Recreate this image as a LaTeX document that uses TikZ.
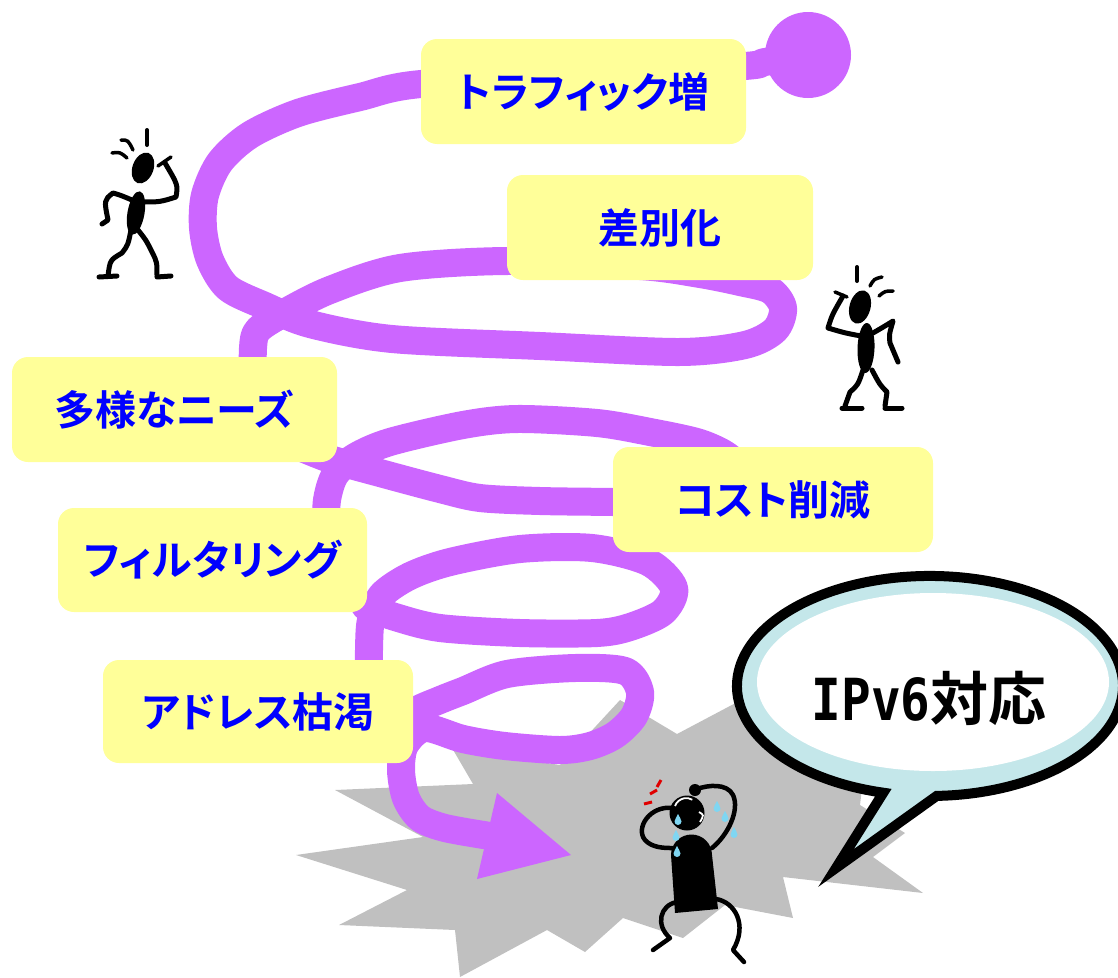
\documentclass[tikz,border=0pt]{standalone}
\usepackage{fontspec}
\newfontfamily\jpb[RawFeature=+palt]{Noto Sans CJK JP Bold}
\newfontfamily\jpr{Noto Sans CJK JP Bold}
\newfontfamily\latinmono[FakeStretch=0.85]{DejaVu Sans Mono Bold}
\definecolor{spiral}{HTML}{CC66FF}
\definecolor{notefill}{HTML}{FFFF99}
\definecolor{notetext}{HTML}{0000FF}
\definecolor{burst}{HTML}{C0C0C0}
\definecolor{rim}{HTML}{C4E7EA}
\definecolor{teardrop}{HTML}{7FD6F2}
\definecolor{alarm}{HTML}{E00000}
\tikzset{
  spiralband/.style={draw=spiral, line width=28, line join=round, line cap=round},
  note/.style={fill=notefill, rounded corners=16, inner sep=0pt, text=notetext,
    font=\fontsize{41}{43}\selectfont\jpb},
  limb/.style={line width=5, line cap=round, line join=round},
  droplet/.pic={\fill[teardrop] (0,-6) .. controls (-1,-3) and (-3.5,-1) .. (-3.5,1.5)
      arc[start angle=180, end angle=0, radius=3.5] .. controls (3.5,-1) and (1,-3) .. cycle;}
}
\begin{document}
\begin{tikzpicture}[x=1pt, y=-1pt]
\useasboundingbox (0,0) rectangle (1118,977);

% grey burst behind the crying man
\fill[burst] (335,790) -- (473,784) -- (452,748) -- (560,765) -- (620,700) -- (677,734)
  -- (745,698) -- (800,640) -- (870,720) -- (860,805) -- (905,833) -- (873,857)
  -- (923,893) -- (783,877) -- (793,918) -- (725,905) -- (683,938) -- (623,918)
  -- (585,952) -- (547,930) -- (460,977) -- (455,930) -- (339,925) -- (407,890)
  -- (296,855) -- (423,837) -- cycle;

% the spiral band, top turn first
\fill[spiral] (808,55) circle[radius=43];
\draw[spiralband] plot[smooth, tension=0.5] coordinates {(808,55) (765,62) (745,66)
  (600,75) (421,84) (360,97) (298,113) (250,135) (220,162) (205,195) (203,228)
  (210,260) (228,288) (265,306) (310,324) (392,339) (540,346) (679,352) (745,345)
  (775,330) (783,308) (770,290) (740,282) (700,274) (640,266) (507,261) (400,268)
  (330,290) (284,313) (258,330) (253,348) (253,390)};
\draw[spiralband] plot[smooth, tension=0.5] coordinates {(326,530) (327,500) (335,475)
  (355,457) (390,442) (463,425) (517,419) (597,423) (650,432) (700,443) (730,458)
  (738,478) (715,495) (660,503) (613,502) (540,501) (480,498) (440,489) (380,473)
  (330,459) (295,445)};
\draw[spiralband] plot[smooth, tension=0.5] coordinates {(369,690) (369,650) (371,620)
  (382,595) (410,576) (450,562) (520,549) (592,548) (648,562) (674,588) (663,612)
  (630,627) (597,633) (520,633) (440,628) (395,617) (365,606)};
\draw[spiralband] plot[smooth, tension=0.5] coordinates {(380,735) (413,712) (440,700)
  (463,691) (507,674) (575,668) (625,671) (640,692) (634,716) (615,735) (590,746)
  (560,750) (505,746) (463,739) (425,728) (405,745) (401,770) (406,798) (420,818)
  (445,828) (490,836)};
\fill[spiral] (497,793) -- (571,855) -- (477,879) -- cycle;

% labels
\node[note, minimum width=325, minimum height=105] (traffic) at (583.5,91.5) {トラフィック増};
\node[note, minimum width=306, minimum height=105] (diff) at (660,227.5) {差別化};
\node[note, minimum width=325, minimum height=105] (needs) at (174.5,409.5) {多様なニーズ};
\node[note, minimum width=320, minimum height=105] (cost) at (773,499.5) {コスト削減};
\node[note, minimum width=309, minimum height=104] (filter) at (212.5,560) {フィルタリング};
\node[note, minimum width=310, minimum height=103] (addr) at (258,711.5) {アドレス枯渇};

% speech bubble
\filldraw[fill=rim, draw=black, line width=10, line join=miter, miter limit=10]
  (836,868) -- (883.3,792.7) arc[start angle=104, end angle=448, x radius=193, y radius=110]
  -- cycle;
\fill[white] (933,682) ellipse[x radius=176, y radius=89];
\node (say) at (929,698) {\fontsize{58}{60}\selectfont\latinmono IPv6\jpr 対応};

% worried man, upper left
\fill[rotate around={70:(143,168)}] (143,168) ellipse[x radius=16, y radius=10.5];
\fill[rotate around={80:(136,213)}] (136,213) ellipse[x radius=22, y radius=8.5];
\draw[limb, line width=4] (147,130) -- (147,145);
\draw[limb, line width=3.5] (121,140) .. controls (128,140) .. (133,150);
\draw[limb, line width=3.5] (112,153) .. controls (120,152) .. (127,158);
\draw[limb] (141,202) .. controls (160,202) .. (176,197) .. controls (178,185) .. (165,163);
\draw[limb, line width=3.5] (158,166) -- (171,157);
\draw[limb] (132,200) .. controls (120,195) .. (113,193) .. controls (104,200) .. (108,220) -- (102,224);
\draw[limb] (131,230) .. controls (128,245) .. (122,253) .. controls (110,260) .. (108,276);
\draw[limb] (99,277) -- (117,276);
\draw[limb] (138,230) .. controls (146,240) .. (152,252) .. controls (157,262) .. (157,276);
\draw[limb] (157,277) -- (171,276);

% worried man, right
\fill[rotate around={75:(860,307)}] (860,307) ellipse[x radius=17, y radius=10.5];
\fill[rotate around={88:(866,348)}] (866,348) ellipse[x radius=25, y radius=8.5];
\draw[limb, line width=4] (857,267) -- (857,281);
\draw[limb, line width=3.5] (870,286) .. controls (874,279) .. (882,277);
\draw[limb, line width=3.5] (879,296) .. controls (885,291) .. (893,291);
\draw[limb] (861,336) .. controls (845,333) .. (828,328) .. controls (832,315) .. (843,296);
\draw[limb, line width=3.5] (835,292) -- (847,297);
\draw[limb] (873,333) .. controls (885,326) .. (893,321) .. controls (889,335) .. (890,343) -- (898,362);
\draw[limb] (863,370) .. controls (858,385) .. (850,392) -- (845,406);
\draw[limb] (842,408) -- (862,408);
\draw[limb] (872,370) .. controls (880,385) .. (887,392) -- (885,406);
\draw[limb] (885,408) -- (902,408);

% crying man in the burst
\fill (675,913) -- (671,855) arc[start angle=180, end angle=360, radius=20.5] -- (718,909) -- cycle;
\fill (687,813) circle[radius=17.5];
\fill (695,790) circle[radius=6];
\draw[white, line width=1.8] (675,806) arc[start angle=200, end angle=300, radius=12];
\draw[white, line width=1.8] (699,812) .. controls (704,815) .. (700,822);
\draw[limb, line width=4.5] (673,808) .. controls (650,805) and (635,828) .. (645,840)
  .. controls (652,848) and (665,848) .. (672,848);
\draw[limb, line width=4.5] (712,848) .. controls (728,835) and (740,810) .. (733,795)
  .. controls (727,783) and (708,785) .. (697,789);
\draw[limb, line width=4.5] (677,902) .. controls (660,905) and (655,925) .. (670,938) -- (653,950);
\draw[limb, line width=4.5] (716,899) .. controls (735,902) and (748,925) .. (733,950) -- (744,962);
\draw[alarm, line width=3] (644,804) -- (652,802);
\draw[alarm, line width=3] (650,794) -- (657,790);
\draw[alarm, line width=3] (657,787) -- (661,780);
\foreach \p in {(678,820),(676,836),(677,852),(717,807),(725,817),(734,833)}
  \pic at \p {droplet};
\end{tikzpicture}
\end{document}
